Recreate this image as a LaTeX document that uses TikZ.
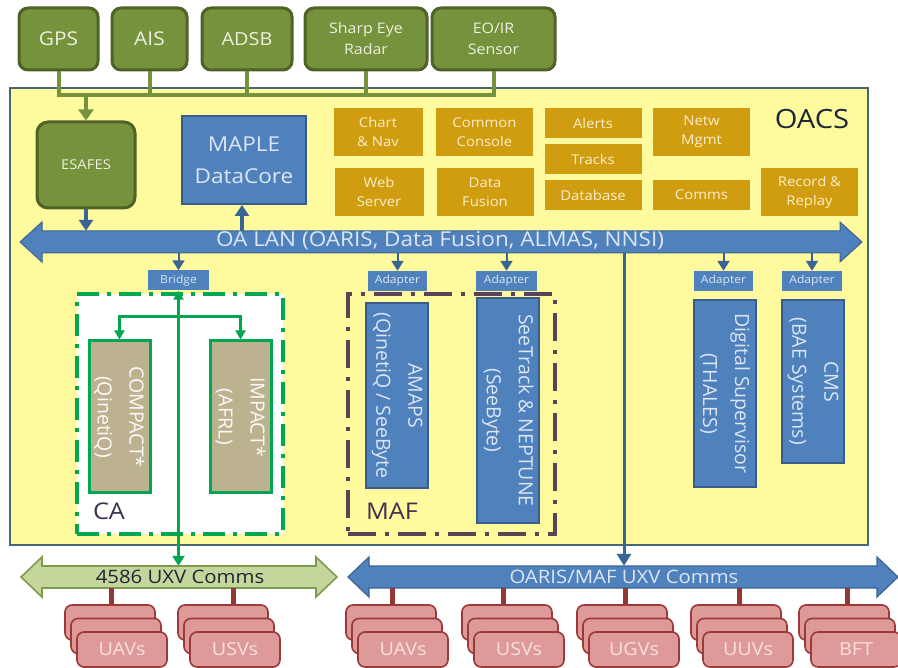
\documentclass[tikz,border=0pt]{standalone}
\usepackage{fontspec}
\setmainfont{Open Sans}[FakeStretch=1.1]
\newfontfamily\rotfont{Open Sans}
\usetikzlibrary{arrows.meta}
\definecolor{sgreen}{HTML}{76923C}
\definecolor{sgreenD}{HTML}{4F6228}
\definecolor{stext}{HTML}{EBF1DE}
\definecolor{oyellow}{HTML}{FFFA9E}
\definecolor{oborder}{HTML}{4B6575}
\definecolor{bfill}{HTML}{4F81BD}
\definecolor{bdraw}{HTML}{385D8A}
\definecolor{bline}{HTML}{3A6494}
\definecolor{btext}{HTML}{DCE6F2}
\definecolor{ofill}{HTML}{D09C10}
\definecolor{otext}{HTML}{FCEFC8}
\definecolor{cagreen}{HTML}{00A651}
\definecolor{tanf}{HTML}{BCB28F}
\definecolor{mafc}{HTML}{5B4356}
\definecolor{lgreen}{HTML}{C3D69B}
\definecolor{lgreenD}{HTML}{7E9B4C}
\definecolor{rfill}{HTML}{DE9A98}
\definecolor{rdraw}{HTML}{9B3A38}
\definecolor{rline}{HTML}{953735}
\definecolor{rtext}{HTML}{F7E1E0}
\definecolor{darktext}{HTML}{1C2833}
\definecolor{purtext}{HTML}{3F3151}
\newcommand\fsz[2]{\fontsize{#1pt}{#2pt}\selectfont}
\begin{document}
\begin{tikzpicture}[x=1pt,y=-1pt,
  sensor/.style={draw=sgreenD, fill=sgreen, line width=3pt, rounded corners=9pt,
    text=stext, align=center, inner sep=0pt, minimum height=62pt},
  obox/.style={fill=ofill, text=otext, align=center, inner sep=0pt,
    minimum width=97pt, font=\fsz{13.5}{19}},
  bbox/.style={fill=bfill, draw=bdraw, line width=1.5pt, text=btext, align=center, inner sep=0pt},
  adbox/.style={fill=bfill, text=btext, inner sep=0pt, minimum height=20pt, font=\fsz{11}{12}},
  tbox/.style={fill=tanf, draw=cagreen, line width=3pt, text=white!95!tanf, align=center, inner sep=0pt},
  rotbox/.style={rotate=-90, font=\rotfont\fsz{19.5}{32}},
  rbox/.style={fill=rfill, draw=rdraw, line width=1.6pt, rounded corners=7pt,
    minimum width=90pt, minimum height=35pt, inner sep=0pt, text=rtext, font=\fsz{18}{20}},
  redline/.style={draw=rline, line width=5pt},
  sline/.style={draw=sgreen, line width=4pt},
  bigarrow/.style={draw=bline, line width=4pt, -{Triangle[width=14pt,length=11pt]}},
  smallarrow/.style={draw=bline, line width=2pt, -{Triangle[width=12pt,length=10pt]}},
  gline/.style={draw=cagreen, line width=2.5pt},
  shaft/.style={inner sep=0pt, minimum height=22pt},
]
\useasboundingbox (0,0) rectangle (898,668);

% OACS frame
\node[draw=oborder, fill=oyellow, line width=1.5pt, minimum width=858pt,
  minimum height=457pt, inner sep=0pt] (oacs) at (439,316.5) {};
\node[text=darktext, font=\fsz{26.5}{28}] (oacslbl) at (812,119) {OACS};

% sensors
\node[sensor, minimum width=79pt, font=\fsz{19}{21}] (gps) at (58.5,39) {GPS};
\node[sensor, minimum width=75pt, font=\fsz{19}{21}] (ais) at (149.5,39) {AIS};
\node[sensor, minimum width=90pt, font=\fsz{18}{21}] (adsb) at (247,39) {ADSB};
\node[sensor, minimum width=122pt, font=\fsz{14.5}{21}] (radar) at (366,39) {Sharp Eye\\Radar};
\node[sensor, minimum width=123pt, font=\fsz{14.5}{21}] (eoir) at (493.5,39) {EO/IR\\Sensor};

\coordinate (busy) at (0,95);
\draw[sline] (gps.south) -- (gps.south |- busy) -- (eoir.south |- busy) -- (eoir.south);
\draw[sline] (ais.south) -- (ais.south |- busy);
\draw[sline] (adsb.south) -- (adsb.south |- busy);
\draw[sline] (radar.south) -- (radar.south |- busy);

% ESAFES and MAPLE
\node[sensor, minimum width=98pt, minimum height=86pt, rounded corners=11pt, font=\fsz{13.5}{16}] (esafes) at (86,165) {ESAFES};
\draw[sline, -{Triangle[width=15pt,length=11pt]}] (esafes.north |- busy) -- (esafes.north);
\node[bbox, line width=2pt, minimum width=124pt, minimum height=88pt, font=\fsz{20.5}{32}] (maple) at (244,160) {MAPLE\\DataCore};

% orange services
\node[obox, minimum width=89pt, minimum height=48pt] (chart) at (378,132) {Chart\\\& Nav};
\node[obox, minimum width=89pt, minimum height=48pt] (web) at (379,192) {Web\\Server};
\node[obox, minimum height=48pt] (common) at (484.5,132) {Common\\Console};
\node[obox, minimum height=48pt] (dfus) at (485,192) {Data\\Fusion};
\node[obox, minimum height=30pt] (alerts) at (593,123) {Alerts};
\node[obox, minimum height=30pt] (tracks) at (593,159) {Tracks};
\node[obox, minimum height=30pt] (dbase) at (593,195) {Database};
\node[obox, minimum height=48pt] (netw) at (701.5,132) {Netw\\Mgmt};
\node[obox, minimum height=30pt] (comms) at (701.5,195) {Comms};
\node[obox, minimum height=48pt] (record) at (809.5,192) {Record \&\\Replay};

% OA LAN double arrow
\draw[fill=bfill, draw=bline, line width=1pt]
  (20,242) -- (42,222) -- (42,231) -- (840,231) -- (840,222) -- (862,242)
  -- (840,262) -- (840,253) -- (42,253) -- (42,262) -- cycle;
\node[shaft, minimum width=798pt] (lanshaft) at (441,242) {};
\node[text=btext, font=\fsz{20.5}{22}] (lan) at (440,241) {OA LAN (OARIS, Data Fusion, ALMAS, NNSI)};

\draw[bigarrow] (esafes.south) -- (esafes.south |- lanshaft.north);
\coordinate (mx) at (242,0);
\draw[bigarrow] (lanshaft.north -| mx) -- (maple.south -| mx);

% bridge / adapters
\node[adbox, minimum width=61pt] (bridge) at (178.5,280.5) {Bridge};
\node[adbox, minimum width=59pt] (ad1) at (397.5,281) {Adapter};
\node[adbox, minimum width=61pt] (ad2) at (506.5,281) {Adapter};
\node[adbox, minimum width=59pt] (ad3) at (723.5,281) {Adapter};
\node[adbox, minimum width=60pt] (ad4) at (812,281) {Adapter};
\foreach \a in {bridge,ad1,ad2,ad3,ad4}
  \draw[smallarrow] (lanshaft.south -| \a.north) -- (\a.north);

% CA frame
\node[draw=cagreen, fill=white, line width=4pt, dash pattern=on 22pt off 8pt on 4pt off 8pt,
  minimum width=206pt, minimum height=240pt, inner sep=0pt] (caframe) at (180,414) {};
\node[text=purtext, font=\fsz{23}{25}] (calbl) at (109,511) {CA};
\node[tbox, rotbox, minimum width=152pt, minimum height=61pt] (compact) at (119.5,417) {COMPACT*\\(QinetiQ)};
\node[tbox, rotbox, minimum width=152pt, minimum height=61pt] (impact) at (240.5,417) {IMPACT*\\(AFRL)};
\draw[gline, {Triangle[width=10pt,length=9pt]}-{Triangle[width=10pt,length=9pt]}]
  (compact.west) -- ++(0,-23) -| (impact.west);

% MAF frame
\node[draw=mafc, line width=3.5pt, dash pattern=on 28pt off 9pt on 4pt off 9pt,
  minimum width=207pt, minimum height=240pt, inner sep=0pt] (mafframe) at (451.5,414) {};
\node[text=purtext, font=\fsz{23}{25}] (maflbl) at (392,511) {MAF};
\node[bbox, rotbox, minimum width=185pt, minimum height=62pt] (amaps) at (397,395.5) {AMAPS\\(QinetiQ / SeeByte};
\node[bbox, rotbox, minimum width=225pt, minimum height=62pt] (seetrack) at (508,410.5) {SeeTrack \& NEPTUNE\\(SeeByte)};

% other systems
\node[bbox, rotbox, minimum width=187pt, minimum height=62pt] (digsup) at (725,393.5) {Digital Supervisor\\(THALES)};
\node[bbox, rotbox, minimum width=163pt, minimum height=62pt] (cms) at (813,381.5) {CMS\\(BAE Systems)};

% bottom comms arrows
\draw[fill=lgreen, draw=lgreenD, line width=1.6pt]
  (21,577) -- (42,557) -- (42,566) -- (316,566) -- (316,557) -- (337,577)
  -- (316,597) -- (316,588) -- (42,588) -- (42,597) -- cycle;
\node[shaft, minimum width=274pt] (ashaft) at (179,577) {};
\node[text=darktext, font=\fsz{18.5}{20}] (acomms) at (180,577) {4586 UXV Comms};

\draw[fill=bfill, draw=bline, line width=1.2pt]
  (348,577) -- (369,557) -- (369,566) -- (877,566) -- (877,557) -- (898,577)
  -- (877,597) -- (877,588) -- (369,588) -- (369,597) -- cycle;
\node[shaft, minimum width=508pt] (oshaft) at (623,577) {};
\node[text=btext, font=\fsz{18.5}{20}] (ocomms) at (624,577) {OARIS/MAF UXV Comms};

% vertical links to comms
\draw[gline, {Triangle[width=10pt,length=9pt]}-{Triangle[width=12pt,length=10pt]}]
  (bridge.south) -- (bridge.south |- ashaft.north);
\coordinate (vx) at (624,0);
\draw[draw=bline, line width=3pt, -{Triangle[width=14pt,length=12pt]}]
  (lanshaft.south -| vx) -- (oshaft.north -| vx);

% vehicle stacks
\node[rbox] (s1c) at (110,622.5) {};
\node[rbox] (s1b) at (116,636) {};
\node[rbox] (s1) at (122,649.5) {UAVs};
\coordinate (s1x) at (111,0);
\draw[redline] (ashaft.south -| s1x) -- (s1c.north -| s1x);

\node[rbox] (s2c) at (223,622.5) {};
\node[rbox] (s2b) at (229,636) {};
\node[rbox] (s2) at (235,649.5) {USVs};
\coordinate (s2x) at (233,0);
\draw[redline] (ashaft.south -| s2x) -- (s2c.north -| s2x);

\node[rbox] (s3c) at (391,622.5) {};
\node[rbox] (s3b) at (397,636) {};
\node[rbox] (s3) at (403,649.5) {UAVs};
\coordinate (s3x) at (392,0);
\draw[redline] (oshaft.south -| s3x) -- (s3c.north -| s3x);

\node[rbox] (s4c) at (507,622.5) {};
\node[rbox] (s4b) at (513,636) {};
\node[rbox] (s4) at (519,649.5) {USVs};
\coordinate (s4x) at (503,0);
\draw[redline] (oshaft.south -| s4x) -- (s4c.north -| s4x);

\node[rbox] (s5c) at (622,622.5) {};
\node[rbox] (s5b) at (628,636) {};
\node[rbox] (s5) at (634,649.5) {UGVs};
\coordinate (s5x) at (625,0);
\draw[redline] (oshaft.south -| s5x) -- (s5c.north -| s5x);

\node[rbox] (s6c) at (736,622.5) {};
\node[rbox] (s6b) at (742,636) {};
\node[rbox] (s6) at (748,649.5) {UUVs};
\coordinate (s6x) at (739,0);
\draw[redline] (oshaft.south -| s6x) -- (s6c.north -| s6x);

\node[rbox] (s7c) at (844,622.5) {};
\node[rbox] (s7b) at (850,636) {};
\node[rbox] (s7) at (856,649.5) {BFT};
\coordinate (s7x) at (847,0);
\draw[redline] (oshaft.south -| s7x) -- (s7c.north -| s7x);
\end{tikzpicture}
\end{document}
